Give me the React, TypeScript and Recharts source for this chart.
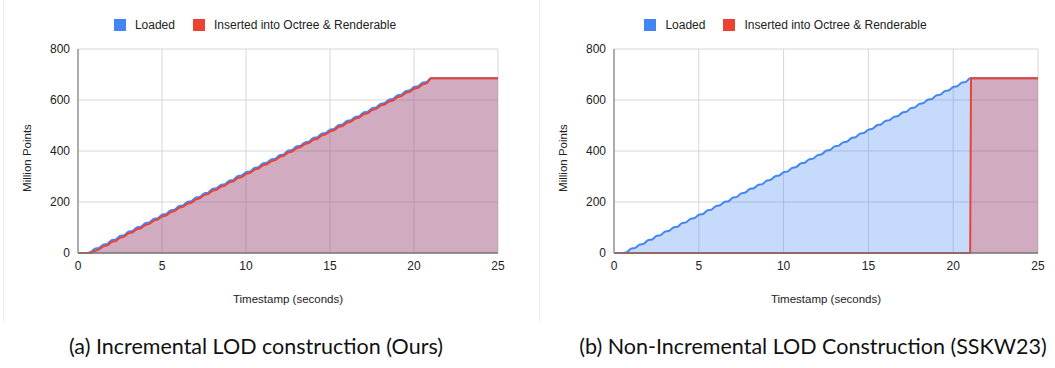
import * as React from 'react';
import { Area, CartesianGrid, ComposedChart, Label, Legend, XAxis, YAxis } from 'recharts';

// sample times (seconds)
const timestamps = [
  0, 0.25, 0.5, 0.75, 1, 1.25, 1.5, 1.75, 2, 2.25, 2.5, 2.75, 3, 3.25, 3.5, 3.75,
  4, 4.25, 4.5, 4.75, 5, 5.25, 5.5, 5.75, 6, 6.25, 6.5, 6.75, 7, 7.25, 7.5, 7.75,
  8, 8.25, 8.5, 8.75, 9, 9.25, 9.5, 9.75, 10, 10.25, 10.5, 10.75, 11, 11.25, 11.5, 11.75,
  12, 12.25, 12.5, 12.75, 13, 13.25, 13.5, 13.75, 14, 14.25, 14.5, 14.75, 15, 15.25, 15.5, 15.75,
  16, 16.25, 16.5, 16.75, 17, 17.25, 17.5, 17.75, 18, 18.25, 18.5, 18.75, 19, 19.25, 19.5, 19.75,
  20, 20.25, 20.5, 20.75, 21, 21.05, 25,
];

// million points loaded (same run in both panels)
const loaded = [
  0, 0, 0, 3, 17, 20, 33, 36, 50, 53, 67, 70, 84, 87, 100, 103,
  117, 120, 134, 137, 150, 153, 167, 170, 184, 187, 200, 203, 217, 220, 234, 237,
  251, 254, 267, 270, 284, 287, 301, 304, 317, 320, 334, 337, 351, 354, 367, 370,
  384, 387, 401, 404, 418, 421, 434, 437, 451, 454, 468, 471, 484, 487, 501, 504,
  518, 521, 534, 537, 551, 554, 568, 571, 585, 588, 601, 604, 618, 621, 635, 638,
  651, 654, 668, 671, 685, 685, 685,
];

// (a) incremental: inserted follows loaded closely
const insertedIncremental = [
  0, 0, 0, 0, 8, 14, 26, 30, 43, 47, 60, 64, 77, 81, 93, 97,
  110, 114, 127, 131, 143, 147, 160, 164, 177, 181, 193, 197, 210, 214, 227, 231,
  244, 248, 260, 264, 277, 281, 294, 298, 310, 314, 327, 331, 344, 348, 360, 364,
  377, 381, 394, 398, 411, 415, 427, 431, 444, 448, 461, 465, 477, 481, 494, 498,
  511, 515, 527, 531, 544, 548, 561, 565, 578, 582, 594, 598, 611, 615, 628, 632,
  644, 648, 661, 665, 685, 685, 685,
];

// (b) non-incremental: everything becomes renderable at the end
const insertedBatch = [
  0, 0, 0, 0, 0, 0, 0, 0, 0, 0, 0, 0, 0, 0, 0, 0,
  0, 0, 0, 0, 0, 0, 0, 0, 0, 0, 0, 0, 0, 0, 0, 0,
  0, 0, 0, 0, 0, 0, 0, 0, 0, 0, 0, 0, 0, 0, 0, 0,
  0, 0, 0, 0, 0, 0, 0, 0, 0, 0, 0, 0, 0, 0, 0, 0,
  0, 0, 0, 0, 0, 0, 0, 0, 0, 0, 0, 0, 0, 0, 0, 0,
  0, 0, 0, 0, 0, 685, 685,
];

const xTicks = [0, 5, 10, 15, 20, 25];
const yTicks = [0, 200, 400, 600, 800];

const seriesNames = ['Loaded', 'Inserted into Octree & Renderable'];
const BLUE = '#4285f4';
const RED = '#ea4335';
const FONT = '"Liberation Sans", Arial, sans-serif';

const dataA = timestamps.map((t, i) => ({ t, loaded: loaded[i], inserted: insertedIncremental[i] }));
const dataB = timestamps.map((t, i) => ({ t, loaded: loaded[i], inserted: insertedBatch[i] }));

const renderLegend = () => (
  <div style={{ display: 'flex', justifyContent: 'center', alignItems: 'center', fontFamily: FONT, fontSize: 12, color: '#222' }}>
    {seriesNames.map((name, i) => (
      <div key={name} style={{ display: 'flex', alignItems: 'center', marginLeft: i ? 18 : 0 }}>
        <span style={{ width: 12, height: 12, background: i ? RED : BLUE, marginRight: 9, display: 'inline-block' }} />
        <span>{name}</span>
      </div>
    ))}
  </div>
);

const Panel = ({ data, width, right }: { data: any[]; width: number; right: number }) => (
  <ComposedChart width={width} height={320} data={data} margin={{ top: 35, right, bottom: 37, left: 20 }}>
    <CartesianGrid stroke='#d6d6d6' />
    <Legend content={renderLegend} verticalAlign='top' wrapperStyle={{ top: 18, left: 0, width: width - 20 }} />
    <XAxis
      dataKey='t'
      type='number'
      domain={[0, 25]}
      ticks={xTicks}
      tickLine={false}
      axisLine={{ stroke: '#777', strokeWidth: 1.5 }}
      tick={{ fontSize: 12, fill: '#222', fontFamily: FONT }}
      height={30}
    >
      <Label
        content={() => (
          <text x={(78 + width - right) / 2} y={303} textAnchor='middle' fontSize={11.5} fill='#222' fontFamily={FONT}>
            Timestamp (seconds)
          </text>
        )}
      />
    </XAxis>
    <YAxis
      type='number'
      domain={[0, 800]}
      ticks={yTicks}
      tickLine={false}
      axisLine={{ stroke: '#999', strokeWidth: 1.5 }}
      tick={{ fontSize: 12, fill: '#222', fontFamily: FONT }}
      width={58}
    >
      <Label
        content={() => (
          <text x={31} y={158} transform='rotate(-90 31 158)' textAnchor='middle' fontSize={11.5} fill='#222' fontFamily={FONT}>
            Million Points
          </text>
        )}
      />
    </YAxis>
    <Area type='monotone' dataKey='loaded' stroke={BLUE} strokeWidth={2} fill={BLUE} fillOpacity={0.3} dot={false} isAnimationActive={false} />
    <Area type='linear' dataKey='inserted' stroke={RED} strokeWidth={2} fill={RED} fillOpacity={0.3} dot={false} isAnimationActive={false} />
  </ComposedChart>
);

const captionStyle: React.CSSProperties = {
  position: 'absolute',
  top: 333,
  fontFamily: 'Lato, "Noto Sans", sans-serif',
  fontSize: 21.5,
  color: '#111',
  whiteSpace: 'nowrap',
  transform: 'translateX(-50%)',
};

export default function App() {
  return (
    <div style={{ position: 'absolute', left: 0, top: 0, width: 1055, height: 368, background: '#fff', overflow: 'hidden' }}>
      <div style={{ position: 'absolute', left: 3, top: 0, width: 1, height: 322, background: '#ececec' }} />
      <div style={{ position: 'absolute', left: 539, top: 0, width: 1, height: 322, background: '#ececec' }} />
      <div style={{ position: 'absolute', left: 0, top: 0 }}>
        <Panel data={dataA} width={530} right={32} />
      </div>
      <div style={{ position: 'absolute', left: 536, top: 0 }}>
        <Panel data={dataB} width={519} right={17} />
      </div>
      <div style={{ ...captionStyle, left: 256 }}>(a) Incremental LOD construction (Ours)</div>
      <div style={{ ...captionStyle, left: 813 }}>(b) Non-Incremental LOD Construction (SSKW23)</div>
    </div>
  );
}
